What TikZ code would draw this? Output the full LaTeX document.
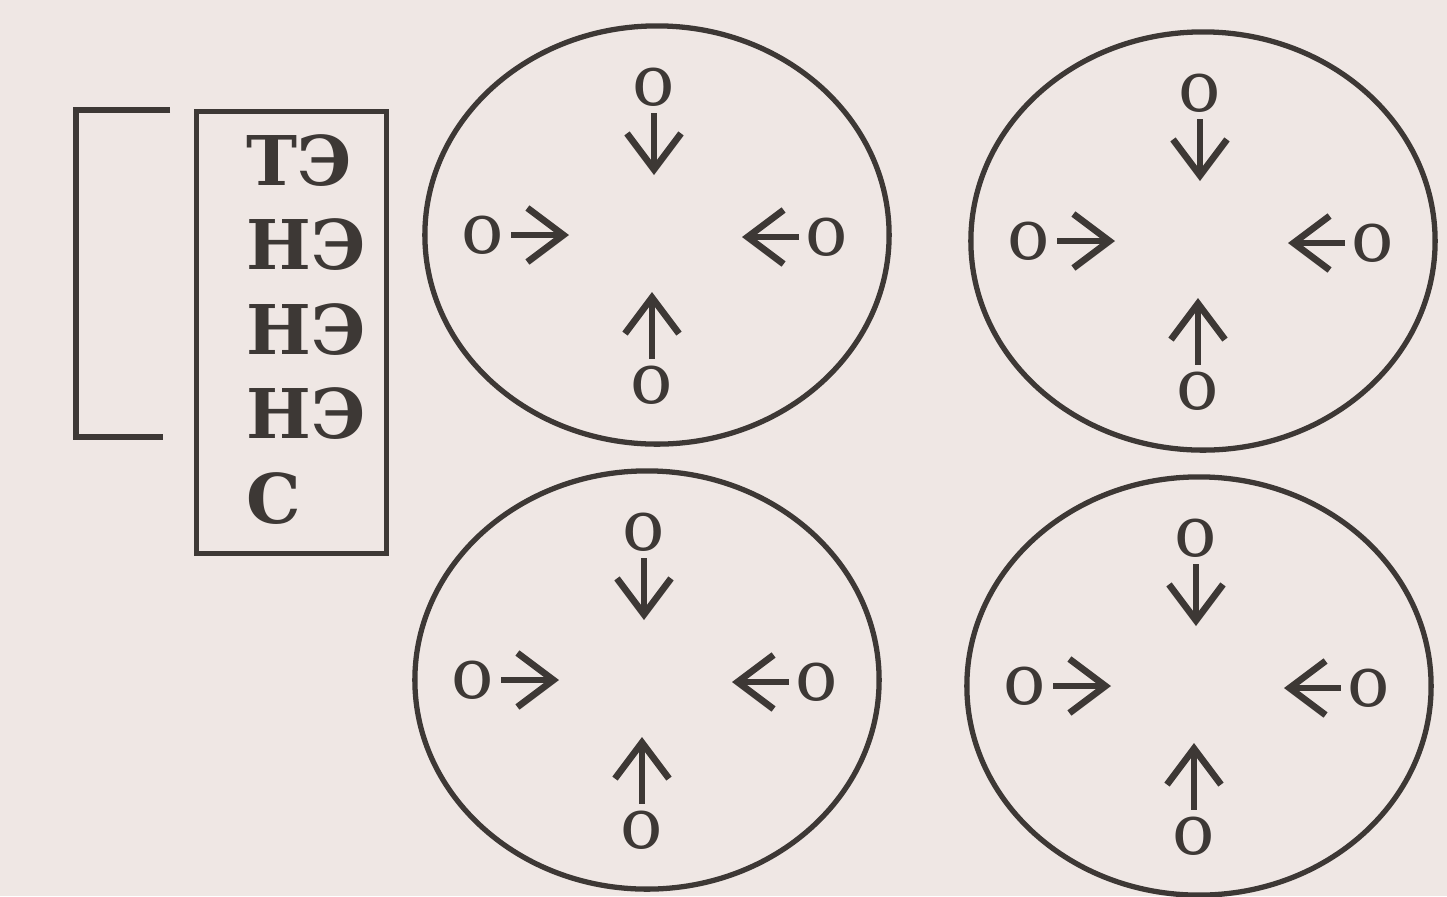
\documentclass[tikz,border=0pt]{standalone}
\usepackage{fontspec}
\setmainfont{DejaVu Serif}
\usetikzlibrary{arrows.meta}
\definecolor{paper}{HTML}{EFE7E4}
\definecolor{ink}{HTML}{3D3835}
\tikzset{
  ring/.style={draw=ink, line width=1.5pt},
  oo/.style={inner sep=0pt, outer sep=0.07cm, text=ink, font=\fontsize{20pt}{24pt}\selectfont},
  word/.style={inner sep=0pt, anchor=base west, text=ink, font=\fontsize{19.5pt}{24pt}\selectfont\bfseries},
  pull/.style={draw=ink, line width=1.9pt, -{Straight Barb[length=0.36cm, width=0.54cm]}}
}

\begin{document}
\begin{tikzpicture}[x=0.01cm,y=-0.01cm]
\fill[paper] (0,0) rectangle (1447,896);
\useasboundingbox (0,0) rectangle (1447,896);
% bracket and list
\draw[ring, line cap=butt] (170,110) -- (76,110) -- (76,437) -- (163,437);
\node[draw=ink, line width=1.4pt, minimum width=1.89cm, minimum height=4.41cm] (box) at (291.5,332.5) {};
\foreach \t [count=\i from 0] in {ТЭ,НЭ,НЭ,НЭ,С}
  \node[word] (w\i) at (246,185+84.5*\i) {\t};
% four ovals
\foreach \cx/\cy/\k in {657/235/a,1203/241/b,647/680/c,1199/686/d}{
  \draw[ring] (\cx,\cy) ellipse [x radius=2.32cm, y radius=2.09cm];
  \coordinate (\k) at (\cx,\cy);
  \node[oo] (\k-n) at (\cx-3,\cy-148) {о};
  \node[oo] (\k-s) at (\cx-5,\cy+150) {о};
  \node[oo] (\k-w) at (\cx-174,\cy) {о};
  \node[oo] (\k-e) at (\cx+170,\cy+2) {о};
  \coordinate (\k-nt) at (\cx-3,\cy-60);
  \coordinate (\k-st) at (\cx-5,\cy+57);
  \coordinate (\k-wt) at (\cx-88,\cy);
  \coordinate (\k-et) at (\cx+85,\cy+2);
  \draw[pull] (\k-n) -- (\k-nt);
  \draw[pull] (\k-s) -- (\k-st);
  \draw[pull] (\k-w) -- (\k-wt);
  \draw[pull] (\k-e) -- (\k-et);
}
\end{tikzpicture}
\end{document}
